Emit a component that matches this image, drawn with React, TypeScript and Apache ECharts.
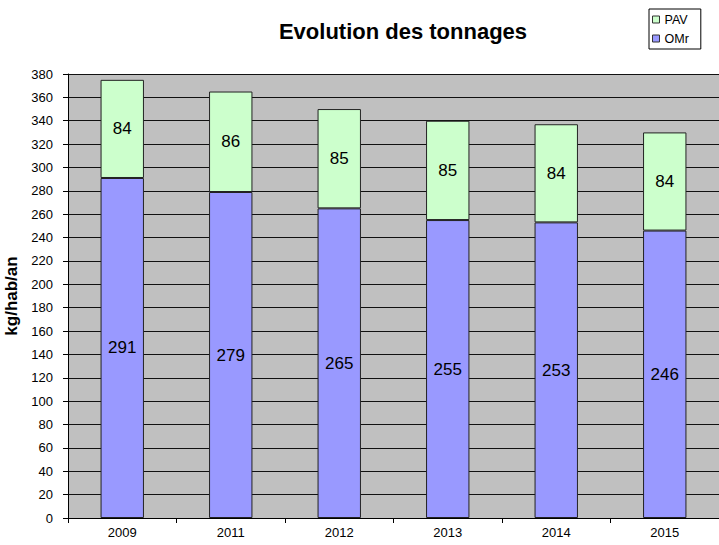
import React, { useEffect, useRef } from "react";
import * as echarts from "echarts";

const categories = ["2009", "2011", "2012", "2013", "2014", "2015"];
const omrValues = [291, 279, 265, 255, 253, 246];
const pavValues = [84, 86, 85, 85, 84, 84];
const titleText = "Evolution des tonnages";
const yAxisName = "kg/hab/an";

export default function App() {
  const ref = useRef<HTMLDivElement>(null);
  useEffect(() => {
    if (!ref.current) return;
    const chart = echarts.init(ref.current, undefined, { renderer: "svg" });
    const font = "'Liberation Sans', Arial, sans-serif";
    chart.setOption({
      animation: false,
      backgroundColor: "#ffffff",
      title: {
        text: titleText,
        left: 398,
        top: 15,
        textAlign: "center",
        textStyle: { fontFamily: font, fontSize: 22, fontWeight: "bold", color: "#000" },
      },
      legend: {
        orient: "vertical",
        left: 649,
        top: 9,
        width: 68,
        data: ["PAV", "OMr"],
        icon: "rect",
        itemWidth: 7,
        itemHeight: 7,
        itemGap: 6,
        padding: [4, 12, 4, 3],
        borderColor: "#000",
        borderWidth: 1,
        backgroundColor: "#fff",
        itemStyle: { borderColor: "#333", borderWidth: 1 },
        textStyle: { fontFamily: font, fontSize: 12.5, color: "#000", padding: [0, 0, 0, 0] },
      },
      grid: {
        left: 68,
        right: 0,
        top: 74,
        bottom: 27,
        show: true,
        backgroundColor: "#c0c0c0",
        borderWidth: 0,
        containLabel: false,
        outerBoundsMode: "none",
      },
      xAxis: {
        type: "category",
        data: categories,
        axisLine: { show: true, lineStyle: { color: "#000", width: 1 } },
        axisTick: { show: true, alignWithLabel: false, length: 5, lineStyle: { color: "#000" } },
        axisLabel: { fontFamily: font, fontSize: 13, color: "#000", margin: 8 },
        splitLine: { show: false },
      },
      yAxis: {
        type: "value",
        min: 0,
        max: 380,
        interval: 20,
        name: yAxisName,
        nameLocation: "middle",
        nameGap: 44,
        nameTextStyle: { fontFamily: font, fontSize: 17, fontWeight: "bold", color: "#000" },
        axisLine: { show: true, lineStyle: { color: "#000", width: 1 } },
        axisTick: { show: true, length: 5, lineStyle: { color: "#000" } },
        axisLabel: { fontFamily: font, fontSize: 13, color: "#000", margin: 15 },
        splitLine: { show: true, lineStyle: { color: "#111", width: 1 } },
      },
      series: [
        {
          name: "OMr",
          type: "bar",
          stack: "total",
          data: omrValues,
          barCategoryGap: "60%",
          itemStyle: { color: "#9999ff", borderColor: "#222", borderWidth: 1 },
          label: {
            show: true,
            position: "inside",
            fontFamily: font,
            fontSize: 17,
            color: "#000",
          },
        },
        {
          name: "PAV",
          type: "bar",
          stack: "total",
          data: pavValues,
          barCategoryGap: "60%",
          itemStyle: { color: "#ccffcc", borderColor: "#222", borderWidth: 1 },
          label: {
            show: true,
            position: "inside",
            fontFamily: font,
            fontSize: 17,
            color: "#000",
          },
        },
      ],
    });
    return () => chart.dispose();
  }, []);
  return (
    <div
      ref={ref}
      style={{ position: "fixed", left: 0, top: 0, width: 719, height: 545 }}
    />
  );
}
